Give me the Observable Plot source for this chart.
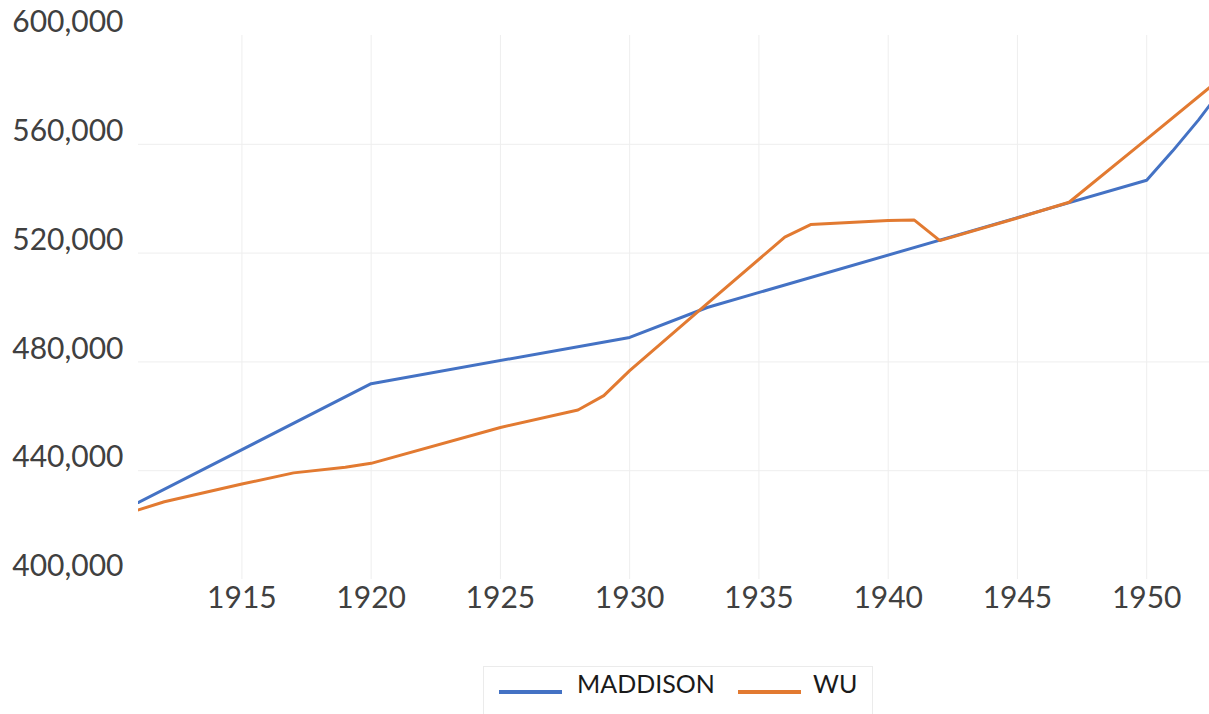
<!DOCTYPE html>
<html><head><meta charset="utf-8">
<script src="https://cdn.jsdelivr.net/npm/d3@7"></script>
<script src="https://cdn.jsdelivr.net/npm/@observablehq/plot@0.6"></script>
<style>
body{margin:0;background:#fff;font-family:Lato,sans-serif;}
#chart{position:relative;width:1209px;height:714px;overflow:hidden}
#legend{position:absolute;left:483px;top:666px;width:390px;height:70px;border:1px solid #ebebeb;box-sizing:border-box;background:#fff}
.sw{position:absolute;top:23px;width:63px;height:4px}
.lb{position:absolute;top:-2px;font-size:25px;line-height:36px;color:#1a1a1a;font-family:Lato,sans-serif}
</style></head>
<body>
<div id="chart"><div id="plot"></div>
<div id="legend"></div></div>
<script>
const seriesNames = ["MADDISON", "WU"];
const seriesColors = ["#4472C4", "#E27A31"];
const maddisonYears = [1911, 1920, 1930, 1933, 1950, 1951, 1952, 1953];
const maddisonValues = [428300, 472000, 489000, 500000, 546800, 557500, 568900, 581400];
const wuYears = [1911, 1912, 1915, 1917, 1919, 1920, 1925, 1928, 1929, 1930, 1933, 1936, 1937, 1940, 1941, 1942, 1945, 1947, 1950, 1953];
const wuValues = [425600, 428600, 435100, 439200, 441300, 442700, 455900, 462300, 467600, 476800, 501400, 525900, 530500, 532000, 532200, 524600, 532900, 538700, 561900, 585300];
const xTicks = [1915, 1920, 1925, 1930, 1935, 1940, 1945, 1950];
const yTicks = [400000, 440000, 480000, 520000, 560000, 600000];
const yGrid = [440000, 480000, 520000, 560000];

const mRows = maddisonYears.map((y, i) => ({year: y, value: maddisonValues[i]}));
const wRows = wuYears.map((y, i) => ({year: y, value: wuValues[i]}));

const chart = Plot.plot({
  width: 1209, height: 640,
  marginTop: 35, marginBottom: 61, marginLeft: 138, marginRight: 0,
  x: {domain: [1911, 1952.43], label: null},
  y: {domain: [400000, 600000], label: null},
  style: {fontFamily: "Lato, sans-serif", fontSize: "30px", color: "#404040", background: "transparent"},
  marks: [
    Plot.gridX(xTicks, {stroke: "#eeeeee", strokeOpacity: 1}),
    Plot.gridY(yGrid, {stroke: "#eeeeee", strokeOpacity: 1}),
    Plot.axisX(xTicks, {tickSize: 0, tickPadding: 7, tickFormat: d => String(d), label: null}),
    Plot.axisY(yTicks, {tickSize: 0, tickPadding: 15, dy: -13, tickFormat: d3.format(","), label: null}),
    Plot.line(mRows, {x: "year", y: "value", stroke: seriesColors[0], strokeWidth: 3, clip: true}),
    Plot.line(wRows, {x: "year", y: "value", stroke: seriesColors[1], strokeWidth: 3, clip: true})
  ]
});
document.getElementById("plot").appendChild(chart);

const legend = document.getElementById("legend");
const swLeft = [15, 254];
const lbLeft = [93, 329];
seriesNames.forEach((n, i) => {
  const s = document.createElement("div");
  s.className = "sw"; s.style.left = swLeft[i] + "px"; s.style.background = seriesColors[i];
  legend.appendChild(s);
  const t = document.createElement("div");
  t.className = "lb"; t.style.left = lbLeft[i] + "px"; t.textContent = n;
  legend.appendChild(t);
});
</script>
</body></html>
